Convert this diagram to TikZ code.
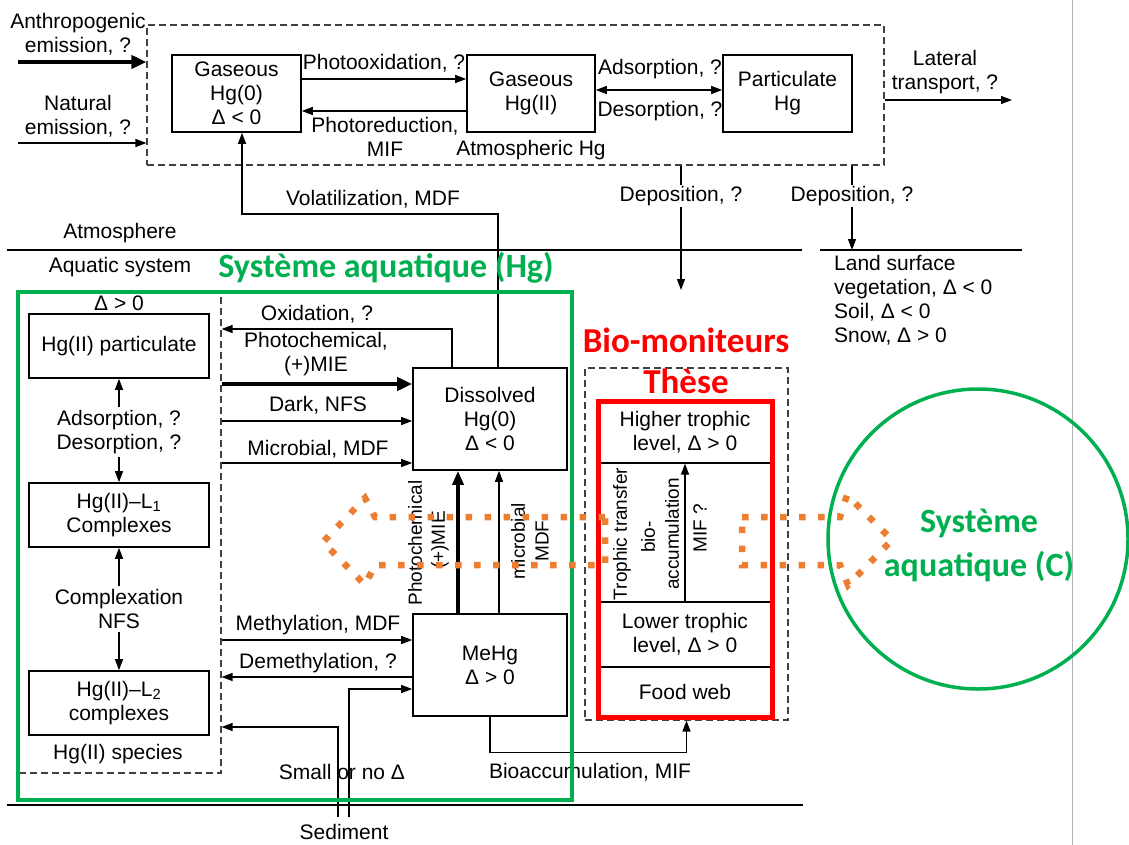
\documentclass[tikz,border=0pt]{standalone}
\usepackage{fontspec}
\setmainfont{Liberation Sans}
\newfontfamily\carlito{Carlito}
\usetikzlibrary{arrows.meta}
\definecolor{pptgreen}{HTML}{00B050}
\definecolor{pptorange}{HTML}{ED7D31}

\tikzset{
  lbl/.style={font=\fontsize{21}{24}\selectfont, align=center, inner sep=1pt},
  rlbl/.style={font=\fontsize{19}{22}\selectfont, rotate=90, inner sep=1pt},
  hgbox/.style={draw, line width=1.6pt, align=center, inner sep=0pt, font=\fontsize{21}{24}\selectfont},
  dbox/.style={draw=black!75, dash pattern=on 7pt off 4pt, line width=1.1pt, inner sep=0pt},
  arr/.style={-{Triangle[length=11pt,width=8pt]}, line width=1.2pt},
  bigarr/.style={-{Triangle[length=15pt,width=13pt]}, line width=4.5pt},
  greentag/.style={font=\carlito\bfseries\fontsize{34}{44}\selectfont, text=pptgreen, align=center, inner sep=0pt},
  redtag/.style={font=\carlito\bfseries\fontsize{35}{40}\selectfont, text=red, inner sep=0pt},
  orangedots/.style={draw=pptorange, line width=6.5pt, dash pattern=on 6.5pt off 12.5pt},
}

\begin{document}
\begin{tikzpicture}[x=1pt,y=-1pt]
\useasboundingbox (0,0) rectangle (1129,845);
\draw[black!30, line width=0.8pt] (1072,0) -- (1072,845);

% atmosphere
\node[dbox, minimum width=737pt, minimum height=140pt] (atmo) at (515.5,95) {};
\node[hgbox, minimum width=129pt, minimum height=77pt] (gHgO) at (236.5,93.5) {Gaseous\\Hg(0)\\Δ < 0};
\node[hgbox, minimum width=128pt, minimum height=77pt] (gHgII) at (531,93.5) {Gaseous\\Hg(II)};
\node[hgbox, minimum width=129pt, minimum height=77pt] (partHg) at (787.5,93.5) {Particulate\\Hg};
\node[lbl] (anthroLbl) at (78,34) {Anthropogenic\\emission, ?};
\node[lbl] (natLbl) at (78,116) {Natural\\emission, ?};
\node[lbl] (poxLbl) at (384,63) {Photooxidation, ?};
\node[lbl] (predLbl) at (385,137) {Photoreduction,\\MIF};
\node[lbl] (adsLblA) at (660,69) {Adsorption, ?};
\node[lbl] (desLblA) at (660,111) {Desorption, ?};
\node[lbl] (atmHgLbl) at (531,150) {Atmospheric Hg};
\node[lbl] (latLbl) at (945,72) {Lateral\\transport, ?};
\coordinate (anthroS) at (18,62);
\coordinate (natS) at (18,143);
\coordinate (latE) at (1012,100);
\draw[bigarr] (anthroS) -- (anthroS -| atmo.west);
\draw[arr] (natS) -- (natS -| atmo.west);
\draw[arr] ([yshift=14.5pt]gHgO.east) -- ([yshift=14.5pt]gHgII.west);
\draw[arr] ([yshift=-17.5pt]gHgII.west) -- ([yshift=-17.5pt]gHgO.east);
\draw[{Triangle[length=11pt,width=8pt]}-{Triangle[length=11pt,width=8pt]}, line width=1.2pt] ([yshift=3.5pt]gHgII.east) -- ([yshift=3.5pt]partHg.west);
\draw[arr] (latE -| atmo.east) -- (latE);

% boundaries
\draw[line width=1.2pt] (7,250) -- (802,250);
\draw[line width=1.2pt] (820,250) -- (1022,250);
\draw[line width=1.2pt] (7,805) -- (803,805);
\node[lbl] (atmLbl) at (120,233) {Atmosphere};
\node[lbl] (aqLbl) at (120,267) {Aquatic system};
\node[lbl, align=left, anchor=west] (landLbl) at (833,300) {Land surface\\vegetation, Δ < 0\\Soil, Δ < 0\\Snow, Δ > 0};

% Hg(II) species
\node[dbox, minimum width=202pt, minimum height=481pt] (spec) at (120,532.5) {};
\node[lbl] (deltaLbl) at (119,303) {Δ > 0};
\node[hgbox, minimum width=180pt, minimum height=64pt] (pHg) at (119,346) {Hg(II) particulate};
\node[hgbox, minimum width=180pt, minimum height=64pt] (L1) at (119,515) {Hg(II)–L\textsubscript{1}\\Complexes};
\node[hgbox, minimum width=180pt, minimum height=64pt] (L2) at (119,703) {Hg(II)–L\textsubscript{2}\\complexes};
\node[lbl, inner sep=3pt] (adsLbl) at (119,432) {Adsorption, ?\\Desorption, ?};
\node[lbl, inner sep=3pt] (cplxLbl) at (119,609) {Complexation\\NFS};
\node[lbl] (specLbl) at (118,754) {Hg(II) species};
\draw[arr] (adsLbl.north) -- (pHg.south);
\draw[arr] (adsLbl.south) -- (L1.north);
\draw[arr] (cplxLbl.north) -- (L1.south);
\draw[arr] (cplxLbl.south) -- (L2.north);

% dissolved Hg and MeHg
\node[hgbox, minimum width=154pt, minimum height=102pt] (dHg) at (490,419) {Dissolved\\Hg(0)\\Δ < 0};
\node[hgbox, minimum width=154pt, minimum height=102pt] (MeHg) at (490,665) {MeHg\\Δ > 0};
\node[lbl] (oxLbl) at (317,314) {Oxidation, ?};
\node[lbl] (pcLbl) at (316,354) {Photochemical,\\(+)MIE};
\node[lbl] (darkLbl) at (318,405) {Dark, NFS};
\node[lbl] (micLbl) at (318,449) {Microbial, MDF};
\node[lbl] (methLbl) at (318,625) {Methylation, MDF};
\node[lbl] (demLbl) at (318,663) {Demethylation, ?};
\node[lbl] (smallLbl) at (342,772) {Small or no Δ};
\node[lbl] (sedLbl) at (344,832) {Sediment};
\node[lbl] (volLbl) at (373,199) {Volatilization, MDF};
\node[rlbl] (pcRLbl) at (415,543) {Photochemical};
\node[rlbl] (mieRLbl) at (440,540) {(+)MIE};
\node[rlbl] (micRLbl) at (518,541) {microbial};
\node[rlbl] (mdfRLbl) at (542,541) {MDF};
\draw[arr] ([xshift=-38pt]dHg.north) |- (spec.east |- 0,329);
\draw[bigarr] (spec.east |- 0,384) -- (dHg.west |- 0,384);
\draw[arr] (spec.east |- 0,421) -- (dHg.west |- 0,421);
\draw[arr] (spec.east |- 0,463) -- (dHg.west |- 0,463);
\draw[arr] (spec.east |- 0,640) -- (MeHg.west |- 0,640);
\draw[arr] (MeHg.west |- 0,677) -- (spec.east |- 0,677);
\coordinate (sedA) at (338,817);
\coordinate (sedB) at (349,817);
\draw[arr] (sedA) |- (spec.east |- 0,727);
\draw[arr] (sedB) |- (MeHg.west |- 0,689);
\draw[-{Triangle[length=14pt,width=11pt]}, line width=3.5pt] ([xshift=-32pt]MeHg.north) -- ([xshift=-32pt]dHg.south);
\draw[arr] ([xshift=9pt]MeHg.north) -- ([xshift=9pt]dHg.south);
\coordinate (volC) at (242,214);
\draw[arr] ([xshift=8pt]dHg.north) |- (volC) -- (volC |- gHgO.south);

% deposition
\coordinate (dep1E) at (681,290);
\coordinate (dep2E) at (852,250);
\draw[arr] (dep1E |- atmo.south) -- (dep1E);
\draw[arr] (dep2E |- atmo.south) -- (dep2E);
\node[lbl, fill=white] (dep1Lbl) at (681,196) {Deposition, ?};
\node[lbl, fill=white] (dep2Lbl) at (852,196) {Deposition, ?};

% food web
\node[dbox, minimum width=203pt, minimum height=352pt] (fw) at (686.5,544) {};
\node[hgbox, line width=1.2pt, minimum width=174pt, minimum height=62pt] (high) at (685,432) {Higher trophic\\level, Δ > 0};
\node[hgbox, line width=1.2pt, minimum width=174pt, minimum height=65pt] (low) at (685,634.5) {Lower trophic\\level, Δ > 0};
\node[hgbox, line width=1.2pt, minimum width=174pt, minimum height=50pt] (web) at (685,692) {Food web};
\node[rlbl] (ttLbl) at (622,534) {Trophic transfer};
\node[rlbl] (bioLbl) at (648,537) {bio-};
\node[rlbl] (accLbl) at (672,534) {accumulation};
\node[rlbl] (mifLbl) at (700,528) {MIF ?};
\draw[arr] (low.north) -- (high.south);
\node[lbl] (bioaccLbl) at (590,772) {Bioaccumulation, MIF};
\draw[arr] (MeHg.south) |- ([yshift=-32pt]fw.south) -- (fw.south);

% highlights
\draw[pptgreen, line width=4pt] (18,292) rectangle (572,800);
\node[greentag] (aqHgTag) at (386,268) {Système aquatique (Hg)};
\draw[red, line width=5pt] (598,401) rectangle (772,717);
\node[redtag] (bioTag) at (686,340) {Bio-moniteurs};
\node[redtag] (theseTag) at (686,381) {Thèse};
\draw[pptgreen, line width=3.5pt] (978,539) circle (150);
\node[greentag] (aqCTag) at (979,545) {Système\\aquatique (C)};
\draw[orangedots] (605,517) -- (375,517) -- (365,498) -- (323,542) -- (365,585) -- (375,565) -- (605,565) -- cycle;
\draw[orangedots] (742,517) -- (840,517) -- (847,495) -- (892,540) -- (848,585) -- (840,565) -- (742,565) -- cycle;
\end{tikzpicture}
\end{document}
